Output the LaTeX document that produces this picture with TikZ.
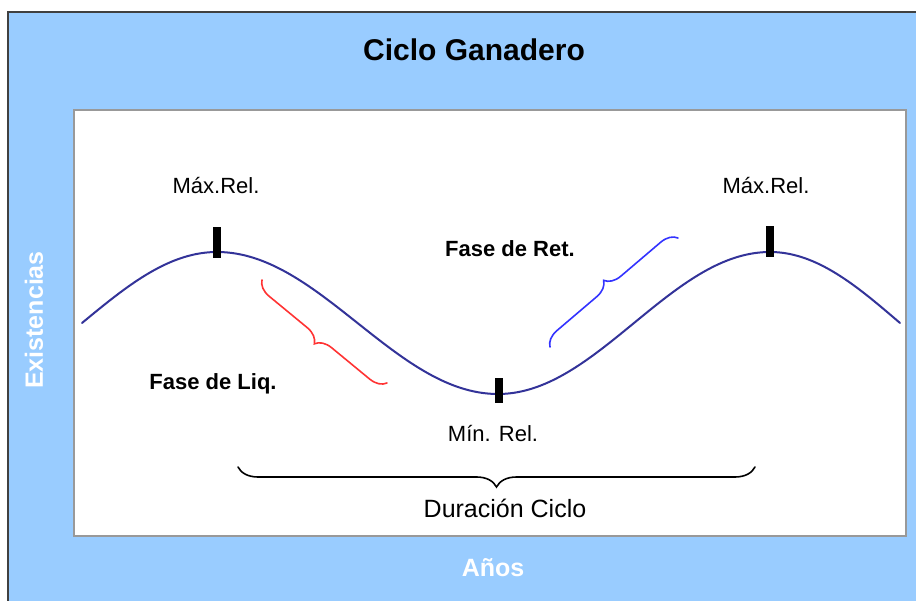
\documentclass[tikz,border=0pt]{standalone}
\usepackage{fontspec}
\setmainfont{Liberation Sans}
\usetikzlibrary{decorations.pathreplacing}
\definecolor{frameblue}{HTML}{99CCFF}
\definecolor{curvecol}{HTML}{333399}
\definecolor{redbr}{HTML}{FF3333}
\definecolor{bluebr}{HTML}{3333FF}
\begin{document}
\begin{tikzpicture}[x=1pt,y=-1pt,
  tickmark/.style={fill=black, inner sep=0pt, minimum width=7.5pt, minimum height=31pt},
  lbl/.style={anchor=base, inner sep=0pt, font=\fontsize{22}{26}\selectfont},
  blbl/.style={anchor=base, inner sep=0pt, font=\fontsize{22}{26}\selectfont\bfseries},
  wlbl/.style={inner sep=0pt, text=white, font=\fontsize{25}{30}\selectfont\bfseries},
  curvestyle/.style={draw=curvecol, line width=2pt, line cap=round},
  bracestyle/.style={decorate, decoration={brace, amplitude=#1, aspect=0.5}, line width=1.6pt, line cap=round}]
\useasboundingbox (0,0) rectangle (916,601);
\fill[white] (0,0) rectangle (916,601);
% frames
\draw[fill=frameblue, draw=black!75, line width=1.8pt] (8,12) rectangle (930,615);
\draw[fill=white, draw=black!40, line width=1.8pt] (74,110) rectangle (906,536);
% curve
\draw[curvestyle] plot[domain=82:217, samples=60] (\x, {323 - 71*sin((\x-82)/135*90)})
  -- plot[domain=217:498, samples=100] (\x, {323 - 71*cos((\x-217)/281*180)})
  -- plot[domain=498:770, samples=100] (\x, {323 + 71*cos((\x-498)/272*180)})
  -- plot[domain=770:900, samples=60] (\x, {323 - 71*cos((\x-770)/130*90)});
% ticks
\node[tickmark] (tmaxl) at (217,242.5) {};
\node[tickmark] (tmaxr) at (770,242) {};
\node[tickmark, minimum height=25pt] (tmin) at (499,390.5) {};
% braces
\coordinate (rA) at (387,383);
\coordinate (rB) at (262,280);
\coordinate (bA) at (550,347);
\coordinate (bB) at (678,238);
\coordinate (dA) at (755,467);
\coordinate (dB) at (238,467);
\draw[bracestyle=16pt, draw=redbr] (rA) -- (rB);
\draw[bracestyle=16pt, draw=bluebr] (bA) -- (bB);
\draw[bracestyle=20pt, draw=black] (dA) -- (dB);
% texts
\node[anchor=base, inner sep=0pt, font=\fontsize{30}{35}\selectfont\bfseries] (title) at (474,61) {Ciclo Ganadero};
\node[lbl] (maxl) at (216,194) {Máx.Rel.};
\node[lbl] (maxr) at (766,194) {Máx.Rel.};
\node[blbl] (ret) at (510,257) {Fase de Ret.};
\node[blbl] (liq) at (213,390) {Fase de Liq.};
\node[lbl] (min) at (493,442) {Mín. Rel.};
\node[lbl, font=\fontsize{25}{29}\selectfont] (dur) at (505,517) {Duración Ciclo};
\node[wlbl] (anos) at (493,568) {Años};
\node[wlbl, rotate=90] (exist) at (34,320) {Existencias};
\end{tikzpicture}
\end{document}
